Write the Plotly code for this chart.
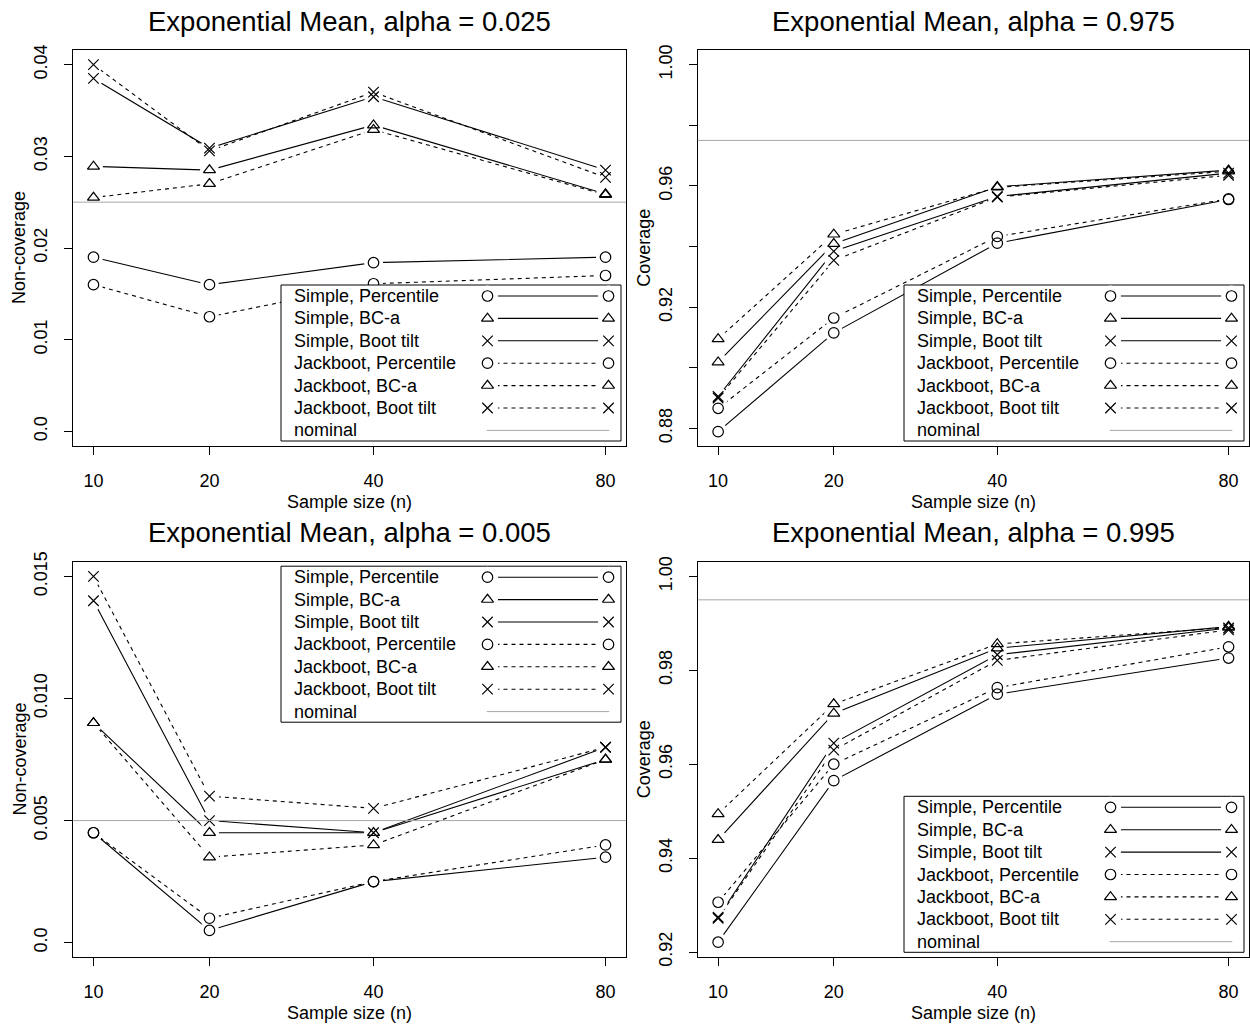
import numpy as np
import plotly.graph_objects as go

# ---------------- data ----------------
n = [10, 20, 40, 80]
methods = ["Simple, Percentile", "Simple, BC-a", "Simple, Boot tilt",
           "Jackboot, Percentile", "Jackboot, BC-a", "Jackboot, Boot tilt"]

# Exponential mean, alpha = 0.025 (non-coverage)
a025_simple_pct = [0.0190, 0.0160, 0.0184, 0.0190]
a025_simple_bca = [0.0289, 0.0285, 0.0334, 0.0259]
a025_simple_tilt = [0.0385, 0.0309, 0.0365, 0.0285]
a025_jack_pct = [0.0160, 0.0125, 0.0161, 0.0170]
a025_jack_bca = [0.0255, 0.0270, 0.0329, 0.0258]
a025_jack_tilt = [0.0400, 0.0306, 0.0370, 0.0277]

# alpha = 0.975 (coverage)
a975_simple_pct = [0.8789, 0.9115, 0.9411, 0.9555]
a975_simple_bca = [0.9018, 0.9409, 0.9597, 0.9652]
a975_simple_tilt = [0.8905, 0.9384, 0.9565, 0.9642]
a975_jack_pct = [0.8866, 0.9164, 0.9433, 0.9557]
a975_jack_bca = [0.9095, 0.9440, 0.9595, 0.9648]
a975_jack_tilt = [0.8900, 0.9354, 0.9563, 0.9635]

# alpha = 0.005 (non-coverage)
a005_simple_pct = [0.0045, 0.0005, 0.0025, 0.0035]
a005_simple_bca = [0.0090, 0.0045, 0.0045, 0.0075]
a005_simple_tilt = [0.0140, 0.0050, 0.0045, 0.0080]
a005_jack_pct = [0.0045, 0.0010, 0.0025, 0.0040]
a005_jack_bca = [0.0090, 0.0035, 0.0040, 0.0075]
a005_jack_tilt = [0.0150, 0.0060, 0.0055, 0.0080]

# alpha = 0.995 (coverage)
a995_simple_pct = [0.9221, 0.9565, 0.9749, 0.9826]
a995_simple_bca = [0.9439, 0.9708, 0.9847, 0.9893]
a995_simple_tilt = [0.9274, 0.9645, 0.9833, 0.9890]
a995_jack_pct = [0.9306, 0.9600, 0.9763, 0.9850]
a995_jack_bca = [0.9494, 0.9728, 0.9856, 0.9891]
a995_jack_tilt = [0.9272, 0.9630, 0.9821, 0.9886]

titles = ["Exponential Mean, alpha = 0.025", "Exponential Mean, alpha = 0.975",
          "Exponential Mean, alpha = 0.005", "Exponential Mean, alpha = 0.995"]
ylabels = ["Non-coverage", "Coverage", "Non-coverage", "Coverage"]
nominals = [0.025, 0.975, 0.005, 0.995]
ylims = [(0.0, 0.04), (0.879, 1.0), (0.0, 0.015), (0.922, 1.0)]
ytick_vals = [[0.0, 0.01, 0.02, 0.03, 0.04],
              [0.88, 0.90, 0.92, 0.94, 0.96, 0.98, 1.00],
              [0.0, 0.005, 0.010, 0.015],
              [0.92, 0.94, 0.96, 0.98, 1.00]]
ytick_text = [["0.0", "0.01", "0.02", "0.03", "0.04"],
              ["0.88", "", "0.92", "", "0.96", "", "1.00"],
              ["0.0", "0.005", "0.010", "0.015"],
              ["0.92", "0.94", "0.96", "0.98", "1.00"]]
xtick_text = ["10", "20", "40", "80"]
legend_pos = ["bottom", "bottom", "top", "bottom"]

panel_data = [
    [a025_simple_pct, a025_simple_bca, a025_simple_tilt, a025_jack_pct, a025_jack_bca, a025_jack_tilt],
    [a975_simple_pct, a975_simple_bca, a975_simple_tilt, a975_jack_pct, a975_jack_bca, a975_jack_tilt],
    [a005_simple_pct, a005_simple_bca, a005_simple_tilt, a005_jack_pct, a005_jack_bca, a005_jack_tilt],
    [a995_simple_pct, a995_simple_bca, a995_simple_tilt, a995_jack_pct, a995_jack_bca, a995_jack_tilt],
]

# ---------------- styles ----------------
FIG_W, FIG_H = 1250, 1028
FONT = "Liberation Sans, Arial, Helvetica, sans-serif"
symbols = ["circle-open", "triangle-up-open", "x-thin-open"] * 2
sym_sizes = [10.5, 10.5, 10.5] * 2
dashes = ["solid"] * 3 + ["4px,4px"] * 3
NOMINAL_COLOR = "#a8a8a8"
MASK_SIZE = 19

# plot boxes in pixel coordinates (left, right, top, bottom)
boxes = [(73, 626, 50, 446), (697.7, 1249, 50, 446),
         (73, 626, 561.7, 957.3), (697.7, 1249, 561.7, 957.3)]

# x axis: sqrt spacing of sample sizes
xs = np.sqrt(np.array(n, dtype=float))
xlo, xhi = xs.min(), xs.max()
xpad = 0.04 * (xhi - xlo)
xrange_ = [xlo - xpad, xhi + xpad]

fig = go.Figure()
layout = dict(width=FIG_W, height=FIG_H, autosize=False,
              margin=dict(l=0, r=0, t=0, b=0, pad=0, autoexpand=False),
              template="none",
              plot_bgcolor="white", paper_bgcolor="white", showlegend=False,
              font=dict(family=FONT, size=18, color="black"))
annotations = []
shapes = []


def axname(prefix, i):
    return prefix if i == 1 else f"{prefix}{i}"


for p in range(4):
    i = p + 1
    oi = p + 5
    L, R, T, B = boxes[p]
    dx = [L / FIG_W, R / FIG_W]
    dy = [1 - B / FIG_H, 1 - T / FIG_H]
    lo, hi = ylims[p]
    ypad = 0.04 * (hi - lo)
    xa, ya = axname("x", i), axname("y", i)
    oxa, oya = f"x{oi}", f"y{oi}"

    layout[axname("xaxis", i)] = dict(
        domain=dx, anchor=ya, range=xrange_, tickvals=list(xs), ticktext=xtick_text,
        ticks="outside", ticklen=8, tickwidth=1, tickcolor="black",
        showline=True, linecolor="black", linewidth=1, mirror=True,
        showgrid=False, zeroline=False, ticklabelstandoff=10, automargin=False,
        tickfont=dict(size=18, family=FONT, color="black"))
    layout[axname("yaxis", i)] = dict(
        domain=dy, anchor=xa, range=[lo - ypad, hi + ypad],
        tickvals=ytick_vals[p], ticktext=ytick_text[p], tickangle=-90,
        ticks="outside", ticklen=8, tickwidth=1, tickcolor="black",
        showline=True, linecolor="black", linewidth=1, mirror=True,
        showgrid=False, zeroline=False, ticklabelstandoff=10, automargin=False,
        tickfont=dict(size=18, family=FONT, color="black"))

    Wb, Hb = R - L, B - T
    layout[f"xaxis{oi}"] = dict(domain=dx, overlaying=xa, anchor=oya, range=[0, Wb],
                                visible=False, showgrid=False, zeroline=False)
    layout[f"yaxis{oi}"] = dict(domain=dy, overlaying=ya, anchor=oxa, range=[Hb, 0],
                                visible=False, showgrid=False, zeroline=False)

    series = panel_data[p]
    # lines
    for k, vals in enumerate(series):
        fig.add_trace(go.Scatter(x=xs, y=vals, mode="lines", xaxis=xa, yaxis=ya,
                                 line=dict(color="black", width=1.1, dash=dashes[k]),
                                 hoverinfo="skip"))
    # white masks for the "b" type gaps
    for k, vals in enumerate(series):
        fig.add_trace(go.Scatter(x=xs, y=vals, mode="markers", xaxis=xa, yaxis=ya,
                                 marker=dict(symbol="circle", size=MASK_SIZE, color="white",
                                             line=dict(width=0)),
                                 hoverinfo="skip"))
    # symbols
    for k, vals in enumerate(series):
        fig.add_trace(go.Scatter(x=xs, y=vals, mode="markers", xaxis=xa, yaxis=ya,
                                 marker=dict(symbol=symbols[k], size=sym_sizes[k], color="black",
                                             line=dict(color="black", width=1.2)),
                                 name=methods[k]))
    # nominal line
    shapes.append(dict(type="line", xref=f"{xa} domain", yref=ya, x0=0, x1=1,
                       y0=nominals[p], y1=nominals[p], layer="above",
                       line=dict(color=NOMINAL_COLOR, width=1)))

    # ---------- custom R-style legend ----------
    LW, LH = 340, 156
    lx0 = Wb - 5 - LW
    ly0 = 4.5 if legend_pos[p] == "top" else Hb - 5 - LH
    fig.add_trace(go.Scatter(x=[lx0, lx0 + LW, lx0 + LW, lx0, lx0],
                             y=[ly0, ly0, ly0 + LH, ly0 + LH, ly0],
                             mode="lines", fill="toself", fillcolor="white",
                             line=dict(color="black", width=1), xaxis=oxa, yaxis=oya,
                             hoverinfo="skip"))
    rows = [ly0 + 11 + r * 22.4 for r in range(7)]
    m0, m1 = lx0 + 206.5, lx0 + 327.5
    for k in range(6):
        fig.add_trace(go.Scatter(x=[m0, m1], y=[rows[k], rows[k]], mode="lines",
                                 line=dict(color="black", width=1.1, dash=dashes[k]),
                                 xaxis=oxa, yaxis=oya, hoverinfo="skip"))
    for k in range(6):
        fig.add_trace(go.Scatter(x=[m0, m1], y=[rows[k], rows[k]], mode="markers",
                                 marker=dict(symbol="circle", size=21, color="white",
                                             line=dict(width=0)),
                                 xaxis=oxa, yaxis=oya, hoverinfo="skip"))
    for k in range(6):
        fig.add_trace(go.Scatter(x=[m0, m1], y=[rows[k], rows[k]], mode="markers",
                                 marker=dict(symbol=symbols[k], size=sym_sizes[k], color="black",
                                             line=dict(color="black", width=1.2)),
                                 xaxis=oxa, yaxis=oya, hoverinfo="skip"))
    fig.add_trace(go.Scatter(x=[lx0 + 205.7, lx0 + 328.3], y=[rows[6], rows[6]], mode="lines",
                             line=dict(color=NOMINAL_COLOR, width=1),
                             xaxis=oxa, yaxis=oya, hoverinfo="skip"))
    for r, label in enumerate(methods + ["nominal"]):
        annotations.append(dict(text=label, xref=oxa, yref=oya, x=lx0 + 11, y=rows[r],
                                xanchor="left", yanchor="middle", showarrow=False,
                                font=dict(size=18, family=FONT, color="black")))

    # titles
    cx = (L + R) / 2 / FIG_W
    annotations.append(dict(text=titles[p], xref="paper", yref="paper", x=cx,
                            y=1 - (T - 29) / FIG_H, xanchor="center", yanchor="middle",
                            showarrow=False, font=dict(size=27.5, family=FONT, color="black")))
    annotations.append(dict(text="Sample size (n)", xref="paper", yref="paper", x=cx,
                            y=1 - (B + 56) / FIG_H, xanchor="center", yanchor="middle",
                            showarrow=False, font=dict(size=18, family=FONT, color="black")))
    annotations.append(dict(text=ylabels[p], xref="paper", yref="paper",
                            x=(L - 54) / FIG_W, y=1 - (T + B) / 2 / FIG_H, textangle=-90,
                            xanchor="center", yanchor="middle",
                            showarrow=False, font=dict(size=18, family=FONT, color="black")))

layout["annotations"] = annotations
layout["shapes"] = shapes
fig.update_layout(**layout)
fig.write_html("out.html",
               config={"displayModeBar": False, "responsive": False},
               post_script="document.body.style.margin='0px';"
                           "document.body.style.padding='0px';"
                           "document.body.style.overflow='hidden';"
                           "var gd=document.getElementById('{plot_id}');"
                           "gd.style.position='fixed';gd.style.top='0px';gd.style.left='0px';")
